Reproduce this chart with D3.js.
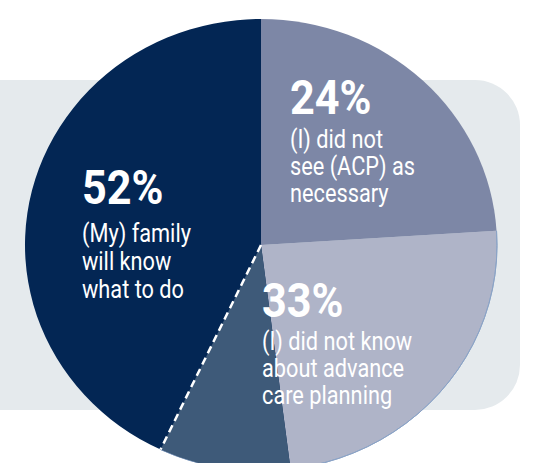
<!DOCTYPE html>
<html>
<head>
<meta charset="utf-8">
<script src="https://cdn.jsdelivr.net/npm/d3@7"></script>
<style>
  html, body { margin: 0; padding: 0; background: #ffffff; }
  svg { display: block; }
  text { font-family: Roboto, "Liberation Sans", sans-serif; fill: #ffffff; }
</style>
</head>
<body>
<div class="chart"></div>
<script>
// Data
const categories = ["family", "not_necessary", "did_not_know"];
const values = [52, 24, 33];               // percent of respondents
const percentLabels = ["52%", "24%", "33%"];
const textLines = [
    ["(My) family", "will know", "what to do"],
    ["(I) did not", "see (ACP) as", "necessary"],
    ["(I) did not know", "about advance", "care planning"]
];

// Style / layout
const sliceColor = { family: "#032654", not_necessary: "#7d87a6", did_not_know: "#afb4c8" };
const overlapColor = "#3e5a79";
const width = 538, height = 463;
const cx = 261, cy = 245, rx = 236, ry = 226;

// where each label block sits (left x, baseline of the big number, gap, line pitch)
const labelPos = {
    family:        { x: 82,  y: 204, gap: 38, pitch: 28 },
    not_necessary: { x: 290, y: 114, gap: 34, pitch: 27 },
    did_not_know:  { x: 262, y: 317, gap: 33, pitch: 27 }
};

const svg = d3.select(".chart").append("svg")
    .attr("width", width)
    .attr("height", height);

// light panel behind the pie
svg.append("rect")
    .attr("x", -60)
    .attr("y", 80)
    .attr("width", 580)
    .attr("height", 330)
    .attr("rx", 45)
    .style("fill", "#e5eaed");

// angle scale: percent -> radians
const angle = d3.scaleLinear().domain([0, 100]).range([0, 2 * Math.PI]);

// 24% starts at 12 o'clock, 33% continues after it, 52% runs back from 12 o'clock
const byCat = {};
categories.forEach((c, i) => byCat[c] = values[i]);
const wedges = {
    not_necessary: [0, byCat.not_necessary],
    did_not_know: [byCat.not_necessary, byCat.not_necessary + byCat.did_not_know],
    family: [100 - byCat.family, 100]
};
const overlap = [wedges.family[0], wedges.did_not_know[1]];

const arc = d3.arc().innerRadius(0).outerRadius(rx);

const pie = svg.append("g")
    .attr("transform", "translate(" + cx + "," + cy + ") scale(1," + (ry / rx) + ")");

["did_not_know", "not_necessary", "family"].forEach(c => {
    pie.append("path")
        .attr("d", arc({ startAngle: angle(wedges[c][0]), endAngle: angle(wedges[c][1]) }))
        .style("fill", sliceColor[c]);
});

// thin edge on the light slice
pie.append("path")
    .attr("d", d3.arc().innerRadius(rx).outerRadius(rx)({
        startAngle: angle(wedges.did_not_know[0]), endAngle: angle(wedges.did_not_know[1]) }))
    .style("fill", "none")
    .style("stroke", "#8aa3c6")
    .style("stroke-width", 1);

// overlap of 52% and 33%
pie.append("path")
    .attr("d", arc({ startAngle: angle(overlap[0]), endAngle: angle(overlap[1]) }))
    .style("fill", overlapColor);

// dashed divider at the end of the 33% wedge
const a = angle(overlap[1]);
pie.append("line")
    .attr("x1", 0).attr("y1", 0)
    .attr("x2", rx * Math.sin(a)).attr("y2", -rx * Math.cos(a))
    .style("stroke", "#ffffff")
    .style("stroke-width", 2.5)
    .style("stroke-dasharray", "8,5");

// labels
categories.forEach((c, i) => {
    const p = labelPos[c];
    svg.append("text")
        .attr("transform", "translate(" + p.x + "," + p.y + ") scale(0.9,1)")
        .style("font-size", "48px")
        .style("font-weight", 700)
        .text(percentLabels[i]);
    textLines[i].forEach((t, j) => {
        svg.append("text")
            .attr("transform", "translate(" + p.x + "," + (p.y + p.gap + j * p.pitch) + ") scale(0.87,1)")
            .style("font-size", "25px")
            .style("font-weight", 400)
            .text(t);
    });
});
</script>
</body>
</html>
